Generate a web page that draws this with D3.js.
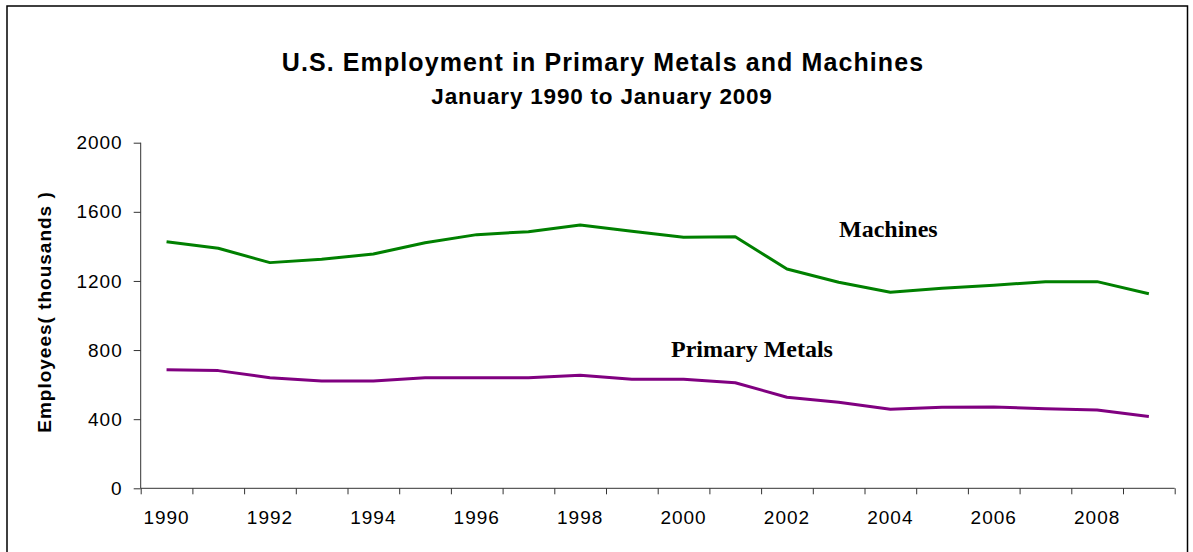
<!DOCTYPE html>
<html>
<head>
<meta charset="utf-8">
<script src="https://cdn.jsdelivr.net/npm/d3@7"></script>
<style>
  html, body { margin: 0; padding: 0; background: #fff; }
  svg { display: block; }
</style>
</head>
<body>
<svg id="chart" width="1193" height="552"></svg>
<script>
const years = [1990,1991,1992,1993,1994,1995,1996,1997,1998,1999,2000,2001,2002,2003,2004,2005,2006,2007,2008,2009];
const machines = [1427,1389,1306,1325,1356,1421,1468,1485,1524,1487,1453,1456,1269,1192,1135,1157,1175,1196,1196,1126];
const primaryMetals = [686,681,640,621,621,640,640,640,654,631,631,611,527,498,458,469,471,461,453,415];
const yTicks = [0,400,800,1200,1600,2000];
const xLabels = [1990,1992,1994,1996,1998,2000,2002,2004,2006,2008];

(function () {
const svg = d3.select("#chart");
const pLeft = 140.7, pRight = 1174.7, pTop = 142.7, pBottom = 488.3;
const axisColor = "#333";

// outer frame
svg.append("rect").attr("x", 7).attr("y", 6).attr("width", 1180.5).attr("height", 580)
  .attr("fill", "none").attr("stroke", "#000").attr("stroke-width", 1.5);

const x = d3.scaleBand().domain(years).range([pLeft, pRight]).padding(0);
const xEdge = d3.scaleLinear().domain([0, years.length]).range([pLeft, pRight]);
const y = d3.scaleLinear().domain([0, 2000]).range([pBottom, pTop]);

// Y axis
const yAxis = svg.append("g").attr("transform", `translate(${pLeft},0)`)
  .call(d3.axisLeft(y).tickValues(yTicks).tickSize(7).tickPadding(11).tickFormat(d3.format("d")));
yAxis.select(".domain").attr("stroke", axisColor).attr("d", `M0,${pTop}V${pBottom}`);
yAxis.selectAll(".tick line").attr("stroke", axisColor);
yAxis.selectAll(".tick text").attr("font-family", "Liberation Sans, Arial, sans-serif")
  .attr("font-size", 19).attr("letter-spacing", "1px").attr("fill", "#000");

// X axis tick marks at category boundaries
const xAxisTicks = svg.append("g").attr("transform", `translate(0,${pBottom})`)
  .call(d3.axisBottom(xEdge).tickValues(d3.range(0, years.length + 1)).tickSize(6).tickFormat(""));
xAxisTicks.select(".domain").attr("stroke", axisColor).attr("d", `M${pLeft},0H${pRight}`);
xAxisTicks.selectAll(".tick line").attr("stroke", axisColor);

// X labels at category centres
const xAxisLabels = svg.append("g").attr("transform", `translate(0,${pBottom})`)
  .call(d3.axisBottom(x).tickValues(xLabels).tickSize(0).tickPadding(22));
xAxisLabels.select(".domain").remove();
xAxisLabels.selectAll(".tick text").attr("font-family", "Liberation Sans, Arial, sans-serif")
  .attr("font-size", 19).attr("letter-spacing", "1px").attr("fill", "#000");

// Lines
const line = d3.line().x((d, i) => x(years[i]) + x.bandwidth() / 2).y(d => y(d));
svg.append("path").datum(machines).attr("d", line)
  .attr("fill", "none").attr("stroke", "#008000").attr("stroke-width", 3).attr("stroke-linejoin", "round");
svg.append("path").datum(primaryMetals).attr("d", line)
  .attr("fill", "none").attr("stroke", "#800080").attr("stroke-width", 3).attr("stroke-linejoin", "round");

// Series labels
svg.append("text").attr("x", 839).attr("y", 236.7).text("Machines")
  .attr("font-family", "Liberation Serif, Times New Roman, serif").attr("font-weight", "bold")
  .attr("font-size", 24).attr("fill", "#000");
svg.append("text").attr("x", 671).attr("y", 356.7).text("Primary Metals")
  .attr("font-family", "Liberation Serif, Times New Roman, serif").attr("font-weight", "bold")
  .attr("font-size", 24).attr("fill", "#000");

// Titles
svg.append("text").attr("x", 603).attr("y", 70.7).attr("text-anchor", "middle")
  .text("U.S. Employment in Primary Metals and Machines")
  .attr("font-family", "Liberation Sans, Arial, sans-serif").attr("font-weight", "bold")
  .attr("font-size", 25).attr("letter-spacing", "1.1px").attr("fill", "#000");
svg.append("text").attr("x", 602).attr("y", 104.3).attr("text-anchor", "middle")
  .text("January 1990 to January 2009")
  .attr("font-family", "Liberation Sans, Arial, sans-serif").attr("font-weight", "bold")
  .attr("font-size", 22.5).attr("letter-spacing", "0.8px").attr("fill", "#000");

// Y axis title
svg.append("text").attr("transform", "translate(51,312) rotate(-90)").attr("text-anchor", "middle")
  .text("Employees( thousands )")
  .attr("font-family", "Liberation Sans, Arial, sans-serif").attr("font-weight", "bold")
  .attr("font-size", 19).attr("letter-spacing", "1px").attr("fill", "#000");
})();
</script>
</body>
</html>
